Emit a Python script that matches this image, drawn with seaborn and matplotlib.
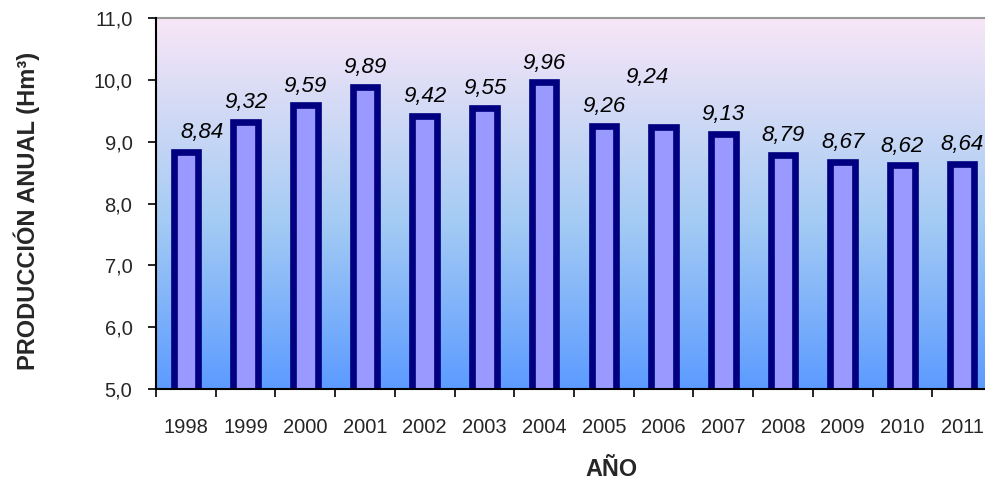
import numpy as np
import pandas as pd
import matplotlib
matplotlib.use("Agg")
import matplotlib.pyplot as plt
from matplotlib.colors import LinearSegmentedColormap
import seaborn as sns

# Annual production (Hm³) per year
years = ["1998", "1999", "2000", "2001", "2002", "2003", "2004",
         "2005", "2006", "2007", "2008", "2009", "2010", "2011"]
production = [8.84, 9.32, 9.59, 9.89, 9.42, 9.55, 9.96,
              9.26, 9.24, 9.13, 8.79, 8.67, 8.62, 8.64]
y_ticks = [5.0, 6.0, 7.0, 8.0, 9.0, 10.0, 11.0]

# Individual label nudges (points) for a couple of crowded labels
label_nudge = {"1998": (12, 0), "2006": (-12, 22)}

df = pd.DataFrame({"year": years, "value": production})

sns.set_theme(style="white")
plt.rcParams["font.family"] = ["Liberation Sans", "DejaVu Sans"]

fig = plt.figure(figsize=(9.85, 4.79), dpi=100)
ax = fig.add_axes([156 / 985, 1 - 389 / 479, (992 - 156) / 985, (389 - 18) / 479])

sns.barplot(data=df, x="year", y="value", ax=ax, color="#9999FF",
            edgecolor="#000080", linewidth=4.8, width=0.41,
            saturation=1, errorbar=None, zorder=3)

ax.set_xlim(-0.5, len(years) - 0.5)
ax.set_ylim(5, 11)

# Vertical gradient background: pale pink at the top to blue at the bottom
grad_cmap = LinearSegmentedColormap.from_list(
    "bg", [(0.0, "#5C9BFF"), (0.45, "#A4CBF4"), (1.0, "#F8E6F7")])
grad = np.linspace(0, 1, 256).reshape(-1, 1)
ax.imshow(grad, cmap=grad_cmap, aspect="auto", origin="lower",
          extent=(-0.5, len(years) - 0.5, 5, 11), zorder=0)

# Value labels
for i, (yr, v) in enumerate(zip(years, production)):
    dx, dy = label_nudge.get(yr, (0, 0))
    ax.annotate(f"{v:.2f}".replace(".", ","), xy=(i, v),
                xytext=(dx, 9.8 + dy), textcoords="offset points",
                ha="center", va="baseline", fontsize=16, style="italic",
                color="black", zorder=5, annotation_clip=False)

# Axes styling
ax.set_yticks(y_ticks)
ax.set_yticklabels([f"{t:.1f}".replace(".", ",") for t in y_ticks])
ax.set_xticks(np.arange(len(years) + 1) - 0.5, minor=True)
ax.tick_params(axis="x", which="major", length=0, pad=21, labelsize=14.5)
ax.tick_params(axis="x", which="minor", length=6, width=1.2, color="black",
               direction="out", bottom=True)
ax.tick_params(axis="y", length=6, width=1.2, color="black", direction="out",
               left=True, pad=11, labelsize=14.5)
ax.set_xlabel("")
ax.set_ylabel("")

for side in ["left", "bottom"]:
    ax.spines[side].set_color("black")
    ax.spines[side].set_linewidth(1.5)
    ax.spines[side].set_zorder(6)
ax.spines["top"].set_color("#999999")
ax.spines["top"].set_linewidth(1.5)
ax.spines["right"].set_visible(False)

fig.text(611 / 985, 1 - 469 / 479, "AÑO", ha="center", va="center",
         fontsize=16.8, fontweight="bold")
fig.text(27 / 985, 1 - 211 / 479, "PRODUCCIÓN ANUAL (Hm³)", ha="center",
         va="center", rotation=90, fontsize=17, fontweight="bold")

fig.savefig("out.png", dpi=100)
